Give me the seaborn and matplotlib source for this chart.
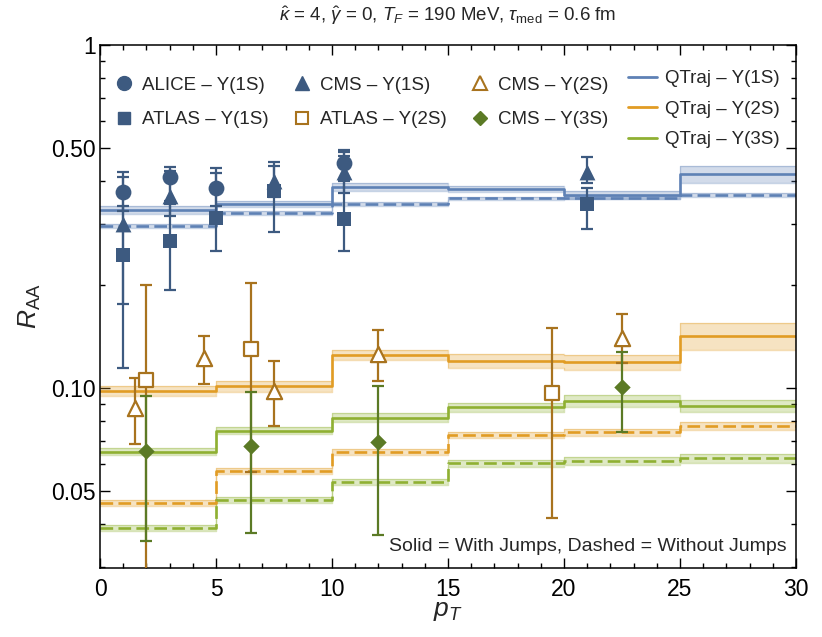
import matplotlib
matplotlib.use("Agg")
import numpy as np
import pandas as pd
import seaborn as sns
import matplotlib.pyplot as plt
from matplotlib.lines import Line2D
from matplotlib.ticker import FixedLocator, NullFormatter

# ---------------- data ----------------
pt_edges = [0, 5, 10, 15, 20, 25, 30]

qt1s_jump = [0.330, 0.345, 0.386, 0.380, 0.365, 0.420]
qt1s_nojump = [0.297, 0.324, 0.344, 0.357, 0.359, 0.365]
qt2s_jump = [0.098, 0.101, 0.125, 0.120, 0.119, 0.142]
qt2s_nojump = [0.0461, 0.0573, 0.0652, 0.0729, 0.0743, 0.0775]
qt3s_jump = [0.0652, 0.0751, 0.0820, 0.0879, 0.0916, 0.0886]
qt3s_nojump = [0.0390, 0.0472, 0.0533, 0.0603, 0.0612, 0.0624]

band1s_jump = [0.025, 0.02, 0.025, 0.02, 0.025, 0.055]
band1s_nojump = [0.012, 0.012, 0.012, 0.012, 0.012, 0.015]
band2s_jump = [0.035, 0.035, 0.035, 0.05, 0.05, 0.09]
band2s_nojump = [0.02, 0.02, 0.02, 0.02, 0.025, 0.03]
band3s_jump = [0.025, 0.025, 0.03, 0.03, 0.04, 0.04]
band3s_nojump = [0.02, 0.02, 0.02, 0.025, 0.025, 0.03]

alice1s_pt = [1, 3, 5, 10.5]
alice1s = [0.372, 0.411, 0.382, 0.454]
alice1s_lo = [0.328, 0.343, 0.340, 0.400]
alice1s_hi = [0.413, 0.442, 0.437, 0.494]

atlas1s_pt = [1, 3, 5, 7.5, 10.5, 21]
atlas1s = [0.244, 0.268, 0.313, 0.374, 0.310, 0.344]
atlas1s_lo = [0.114, 0.193, 0.251, 0.284, 0.250, 0.291]
atlas1s_hi = [0.340, 0.350, 0.424, 0.445, 0.475, 0.382]

cms1s_pt = [1, 3, 7.5, 10.5, 21]
cms1s = [0.301, 0.363, 0.402, 0.425, 0.427]
cms1s_lo = [0.176, 0.317, 0.360, 0.369, 0.395]
cms1s_hi = [0.427, 0.430, 0.457, 0.486, 0.471]

cms2s_pt = [1.5, 4.5, 7.5, 12, 22.5]
cms2s = [0.0873, 0.1226, 0.0982, 0.126, 0.140]
cms2s_lo = [0.0687, 0.103, 0.0775, 0.105, 0.118]
cms2s_hi = [0.1067, 0.142, 0.120, 0.1476, 0.164]

atlas2s_pt = [2, 6.5, 19.5]
atlas2s = [0.1056, 0.130, 0.0965]
atlas2s_lo = [0.020, 0.057, 0.0417]
atlas2s_hi = [0.199, 0.202, 0.150]

cms3s_pt = [2, 6.5, 12, 22.5]
cms3s = [0.0655, 0.0678, 0.0695, 0.1005]
cms3s_lo = [0.0359, 0.0377, 0.0373, 0.0742]
cms3s_hi = [0.095, 0.0971, 0.1016, 0.1274]

y_major = [0.05, 0.10, 0.50, 1.0]
y_major_labels = ["0.05", "0.10", "0.50", "1"]
y_minor = [0.03, 0.04, 0.06, 0.07, 0.08, 0.09, 0.2, 0.3, 0.4, 0.6, 0.7, 0.8, 0.9]
x_major = [0, 5, 10, 15, 20, 25, 30]

# ---------------- style ----------------
sns.set_theme(style="ticks")
plt.rcParams["font.family"] = ["Liberation Sans", "DejaVu Sans"]
plt.rcParams["mathtext.fontset"] = "custom"
plt.rcParams["mathtext.rm"] = "Liberation Sans"
plt.rcParams["mathtext.it"] = "Liberation Sans:italic"
plt.rcParams["mathtext.bf"] = "Liberation Sans:bold"

C1, C2, C3 = "#5E81B5", "#E19C24", "#8FB032"
D1, D2, D3 = "#3D5A80", "#A8731E", "#5B7A25"

fig = plt.figure(figsize=(8.22, 6.37), dpi=100)
ax = fig.add_axes([100 / 822, 1 - 568 / 637, 696 / 822, 523 / 637])
ax.set_yscale("log")


def theory(vals, rel, color, dashed):
    vals = np.asarray(vals, dtype=float)
    rel = np.asarray(rel, dtype=float)
    yext = np.append(vals, vals[-1])
    lo = np.append(vals * (1 - rel), vals[-1] * (1 - rel[-1]))
    hi = np.append(vals * (1 + rel), vals[-1] * (1 + rel[-1]))
    ax.fill_between(pt_edges, lo, hi, step="post", color=color, alpha=0.28, lw=0, zorder=1)
    for b in (lo, hi):
        ax.step(pt_edges, b, where="post", color=color, alpha=0.35, lw=1.0, zorder=1)
    df = pd.DataFrame({"pt": pt_edges, "raa": yext})
    sns.lineplot(data=df, x="pt", y="raa", drawstyle="steps-post", color=color,
                 lw=1.9, ax=ax, legend=False, zorder=2)
    line = ax.lines[-1]
    if dashed:
        line.set_dashes((4.8, 2.0))


theory(qt1s_jump, band1s_jump, C1, False)
theory(qt1s_nojump, band1s_nojump, C1, True)
theory(qt2s_jump, band2s_jump, C2, False)
theory(qt2s_nojump, band2s_nojump, C2, True)
theory(qt3s_jump, band3s_jump, C3, False)
theory(qt3s_nojump, band3s_nojump, C3, True)


def points(pt, v, lo, hi, marker, color, size, filled=True):
    v = np.asarray(v)
    err = [v - np.asarray(lo), np.asarray(hi) - v]
    ax.errorbar(pt, v, yerr=err, fmt="none", ecolor=color, elinewidth=1.6,
                capsize=4, capthick=1.6, zorder=4)
    sns.scatterplot(x=pt, y=v, marker=marker, s=size,
                    color=color if filled else "white",
                    edgecolor=color, linewidth=0 if filled else 1.6,
                    ax=ax, zorder=5, legend=False)


points(atlas1s_pt, atlas1s, atlas1s_lo, atlas1s_hi, "s", D1, 110)
points(cms1s_pt, cms1s, cms1s_lo, cms1s_hi, "^", D1, 130)
points(alice1s_pt, alice1s, alice1s_lo, alice1s_hi, "o", D1, 130)
points(atlas2s_pt, atlas2s, atlas2s_lo, atlas2s_hi, "s", D2, 100, filled=False)
points(cms2s_pt, cms2s, cms2s_lo, cms2s_hi, "^", D2, 120, filled=False)
points(cms3s_pt, cms3s, cms3s_lo, cms3s_hi, "D", D3, 70)

# ---------------- axes ----------------
ax.set_xlim(0, 30)
ax.set_ylim(0.02986, 1.0)
ax.xaxis.set_major_locator(FixedLocator(x_major))
ax.xaxis.set_minor_locator(FixedLocator([i for i in range(31) if i % 5]))
ax.yaxis.set_major_locator(FixedLocator(y_major))
ax.set_yticklabels(y_major_labels)
ax.yaxis.set_minor_locator(FixedLocator(y_minor))
ax.yaxis.set_minor_formatter(NullFormatter())
ax.tick_params(which="both", direction="in", top=True, right=True, colors="black",
               labelsize=16.5, width=1.0)
ax.tick_params(which="major", length=7)
ax.tick_params(which="minor", length=3.5)
ax.tick_params(axis="x", pad=7)
ax.tick_params(axis="y", pad=3)
for s in ax.spines.values():
    s.set_linewidth(1.1)
    s.set_color("black")

ax.set_xlabel("$p_T$", fontsize=19, labelpad=-1.5)
ax.set_ylabel(r"$R_{\rm AA}$", fontsize=19, labelpad=6)

fig.text(448 / 822, 1 - 16 / 637,
         r"$\hat{\kappa}$ = 4, $\hat{\gamma}$ = 0, $T_F$ = 190 MeV, $\tau_{\rm med}$ = 0.6 fm",
         ha="center", va="center", fontsize=13.5)

ax.text(0.987, 0.024, "Solid = With Jumps, Dashed = Without Jumps", transform=ax.transAxes,
        ha="right", va="bottom", fontsize=14, zorder=10,
        bbox=dict(facecolor="white", edgecolor="none", pad=1.5))

# ---------------- legends ----------------
h_alice = Line2D([], [], ls="none", marker="o", ms=10, color=D1, mec=D1)
h_atlas1 = Line2D([], [], ls="none", marker="s", ms=9, color=D1, mec=D1)
h_cms1 = Line2D([], [], ls="none", marker="^", ms=10, color=D1, mec=D1)
h_atlas2 = Line2D([], [], ls="none", marker="s", ms=9, mfc="white", mec=D2, mew=1.5)
h_cms2 = Line2D([], [], ls="none", marker="^", ms=10, mfc="white", mec=D2, mew=1.5)
h_cms3 = Line2D([], [], ls="none", marker="D", ms=7.5, color=D3, mec=D3)
leg1 = ax.legend([h_alice, h_atlas1, h_cms1, h_atlas2, h_cms2, h_cms3],
                 ["ALICE – Υ(1S)", "ATLAS – Υ(1S)", "CMS – Υ(1S)", "ATLAS – Υ(2S)",
                  "CMS – Υ(2S)", "CMS – Υ(3S)"],
                 ncol=3, loc="upper left", bbox_to_anchor=(0.021, 0.94), frameon=False,
                 fontsize=13.5, borderpad=0, borderaxespad=0, handlelength=1.0,
                 handletextpad=0.45, columnspacing=1.3, labelspacing=0.95)
ax.add_artist(leg1)

hl = [Line2D([], [], color=c, lw=2) for c in (C1, C2, C3)]
ax.legend(hl, ["QTraj – Υ(1S)", "QTraj – Υ(2S)", "QTraj – Υ(3S)"],
          loc="upper left", bbox_to_anchor=(0.7586, 0.952), frameon=False,
          fontsize=13.5, borderpad=0, borderaxespad=0, handlelength=1.55,
          handletextpad=0.43, labelspacing=0.72)

fig.savefig("out.png", dpi=100)
